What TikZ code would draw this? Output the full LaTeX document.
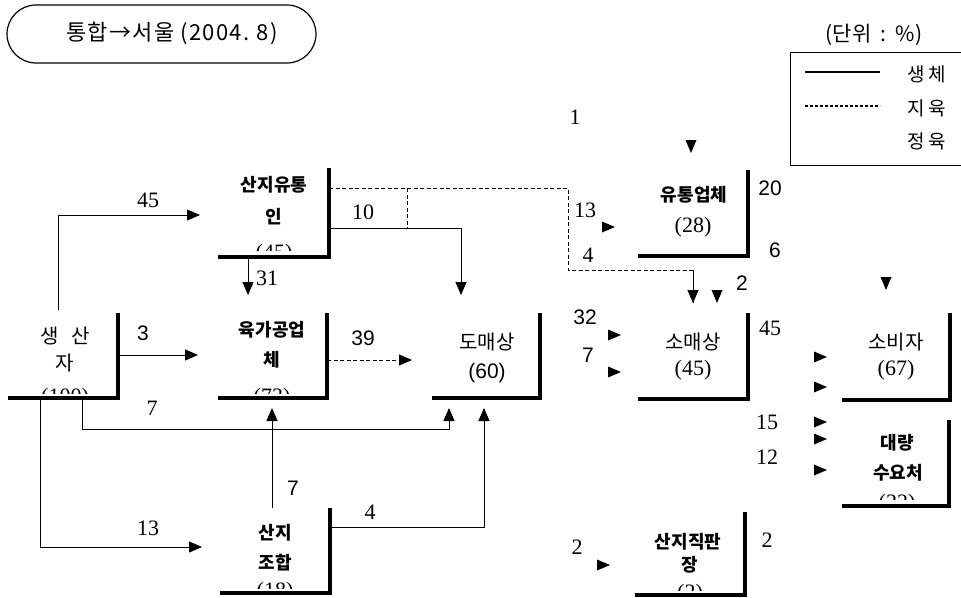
\documentclass[tikz,border=0pt]{standalone}
\usepackage{fontspec}
\setmainfont{Liberation Serif}
\newfontfamily\kr{Noto Sans CJK KR}
\newfontfamily\krw[LetterSpace=6]{Noto Sans CJK KR}
\newfontfamily\arl{Liberation Sans}
\usetikzlibrary{arrows.meta}
\tikzset{
  lbox/.style={rectangle, inner sep=0pt, draw=none},
  lline/.style={line width=3.5pt},
  con/.style={line width=0.9pt},
  arr/.style={con, -{Triangle[length=13pt,width=11pt]}},
  dcon/.style={con, dash pattern=on 4pt off 2.5pt},
  darr/.style={dcon, -{Triangle[length=13pt,width=11pt]}},
  kt/.style={font=\kr\fontsize{20}{22}\selectfont, inner sep=0pt},
  ktb/.style={font=\kr\bfseries\fontsize{18}{20}\selectfont, inner sep=0pt},
  num/.style={font=\fontsize{22}{24}\selectfont, inner sep=0pt},
  anum/.style={font=\arl\fontsize{21}{23}\selectfont, inner sep=0pt},
  legt/.style={font=\kr\fontsize{19}{21}\selectfont, inner sep=0pt},
  headR/.pic={\fill (0,0) -- (-13,-5.5) -- (-13,5.5) -- cycle;},
  headD/.pic={\fill (0,0) -- (-5.5,-13) -- (5.5,-13) -- cycle;},
}
\begin{document}
\begin{tikzpicture}[x=1pt,y=-1pt]
\useasboundingbox (0,0) rectangle (961,597);

% title and legend
\draw[line width=1.2pt, rounded corners=29pt] (7,5) rectangle (316,63);
\node[font=\krw\fontsize{22}{24}\selectfont, inner sep=0pt] (title) at (172,33) {통합→서울 (2004.\,\,8)};
\node[font=\kr\fontsize{21}{23}\selectfont, inner sep=0pt] (unit) at (874,35) {(단위\ \ :\ \ \%)};
\node[lbox, minimum width=190pt, minimum height=112pt] (leg) at (886,109) {};
\draw[line width=1.2pt] (leg.north east) -- (leg.north west) -- (leg.south west) -- (leg.south east);
\coordinate (l1a) at (805,72); \coordinate (l1b) at (880,72);
\coordinate (l2a) at (805,106); \coordinate (l2b) at (880,106);
\draw[line width=1.2pt] (l1a) -- (l1b);
\draw[line width=1.2pt, dash pattern=on 3pt off 2pt] (l2a) -- (l2b);
\node[legt] (lg1) at (927,74) {생\,체};
\node[legt] (lg2) at (927,108) {지\,육};
\node[legt] (lg3) at (927,141) {정\,육};

% boxes
\node[lbox, minimum width=110pt, minimum height=85pt] (P) at (63,355.5) {};
\node[lbox, minimum width=111pt, minimum height=89pt] (S) at (273.5,212.5) {};
\node[lbox, minimum width=109pt, minimum height=85pt] (M) at (272.5,355.5) {};
\node[lbox, minimum width=108pt, minimum height=85pt] (W) at (486,355.5) {};
\node[lbox, minimum width=110pt, minimum height=86pt] (D) at (693,213) {};
\node[lbox, minimum width=110pt, minimum height=86pt] (R) at (693,356) {};
\node[lbox, minimum width=108pt, minimum height=87pt] (C) at (896,356.5) {};
\node[lbox, minimum width=107pt, minimum height=86pt] (B) at (895.5,463) {};
\node[lbox, minimum width=110pt, minimum height=85pt] (J) at (275,550.5) {};
\node[lbox, minimum width=110pt, minimum height=83pt] (K) at (690,553.5) {};
\foreach \b in {P,S,M,W,D,R,C,B,J,K}
  \draw[lline] (\b.north east) -- (\b.south east) -- (\b.south west);

% box texts
\node[kt] (Pt1) at (65,336) {생\hspace{0.6em}산};
\node[kt] (Pt2) at (65,363) {자};
\node[ktb] (St1) at (274,185) {산지유통};
\node[ktb] (St2) at (274,217) {인};
\node[ktb] (Mt1) at (272,330) {육가공업};
\node[ktb] (Mt2) at (272,360) {체};
\node[kt] (Wt1) at (487,342) {도매상};
\node[anum] (Wt2) at (487,373) {(60)};
\node[ktb] (Dt1) at (694,195) {유통업체};
\node[num] (Dt2) at (693,227) {(28)};
\node[kt] (Rt1) at (693,342) {소매상};
\node[num] (Rt2) at (693,370) {(45)};
\node[kt] (Ct1) at (896,342) {소비자};
\node[num] (Ct2) at (896,370) {(67)};
\node[ktb] (Bt1) at (897,443) {대량};
\node[ktb] (Bt2) at (898,473) {수요처};
\node[ktb] (Jt1) at (275,533) {산지};
\node[ktb] (Jt2) at (275,563) {조합};
\node[ktb] (Kt1) at (688,542) {산지직판};
\node[ktb] (Kt2) at (690,565) {장};
% cut-off totals
\begin{scope}\clip (0,380) rectangle (120,393);
\node[num] (Pt3) at (65,398) {(100)};\end{scope}
\begin{scope}\clip (220,230) rectangle (320,250);
\node[num] (St3) at (274,254) {(45)};\end{scope}
\begin{scope}\clip (220,380) rectangle (320,393);
\node[num] (Mt3) at (272,398) {(73)};\end{scope}
\begin{scope}\clip (840,485) rectangle (945,499);
\node[num] (Bt3) at (897,504) {(22)};\end{scope}
\begin{scope}\clip (220,575) rectangle (325,588);
\node[num] (Jt3) at (275,592) {(18)};\end{scope}
\begin{scope}\clip (640,578) rectangle (740,590);
\node[num] (Kt3) at (690,594) {(2)};\end{scope}

% connector end points
\coordinate (s45) at (58,310);
\coordinate (t45) at (200,215);
\coordinate (t31) at (248,295);
\coordinate (t10) at (461,295);
\coordinate (t3) at (198,355);
\coordinate (t39) at (412,360);
\coordinate (t7a) at (449,408);
\coordinate (t13) at (202,547);
\coordinate (t7b) at (272,408);
\coordinate (t4) at (484,408);
\coordinate (dA) at (568,188);
\coordinate (dB) at (568,270);
\coordinate (t2d) at (693,303);
\coordinate (dv1) at (407,188);
\coordinate (dv2) at (407,228);

% connectors
\draw[arr] (s45) |- (t45);
\draw[arr] (S.south -| t31) -- (t31);
\draw[arr] (S.east |- 0,228) -| (t10);
\draw[dcon] (S.east |- dA) -- (dA) -- (dB) -| (t2d);
\draw[darr] (dB -| t2d) -- (t2d);
\draw[dcon] (dv1) -- (dv2);
\draw[arr] (P.east |- t3) -- (t3);
\draw[darr] (M.east |- t39) -- (t39);
\draw[arr] (P.south -| 82,0) |- (t7a |- 0,429) -- (t7a);
\draw[arr] (P.south -| 40,0) |- (t13);
\draw[arr] (J.north -| t7b) -- (t7b);
\draw[arr] (J.east |- 0,527) -| (t4);

% stray arrowheads
\pic at (615,227) {headR};
\pic at (691,153) {headD};
\pic at (717,303) {headD};
\pic at (886,290) {headD};
\pic at (621,335) {headR};
\pic at (621,372) {headR};
\pic at (827,357) {headR};
\pic at (827,387) {headR};
\pic at (827,422) {headR};
\pic at (827,439) {headR};
\pic at (827,470) {headR};
\pic at (610,565) {headR};

% numbers
\node[num] (n45) at (148,200) {45};
\node[num] (n31) at (267,278) {31};
\node[num] (n10) at (363,212) {10};
\node[num] (n1) at (575,117) {1};
\node[num] (n13a) at (585,210) {13};
\node[num] (n4a) at (588,255) {4};
\node[anum] (n20) at (770,188) {20};
\node[anum] (n6) at (775,250) {6};
\node[anum] (n2a) at (742,283) {2};
\node[anum] (n3) at (143,333) {3};
\node[num] (n7a) at (152,408) {7};
\node[anum] (n7b) at (293,488) {7};
\node[anum] (n39) at (363,338) {39};
\node[anum] (n32) at (585,317) {32};
\node[anum] (n7c) at (588,355) {7};
\node[num] (n45b) at (770,328) {45};
\node[num] (n15) at (767,422) {15};
\node[num] (n12) at (767,457) {12};
\node[num] (n13b) at (148,528) {13};
\node[num] (n4b) at (370,512) {4};
\node[num] (n2b) at (577,547) {2};
\node[num] (n2c) at (767,540) {2};
\end{tikzpicture}
\end{document}
